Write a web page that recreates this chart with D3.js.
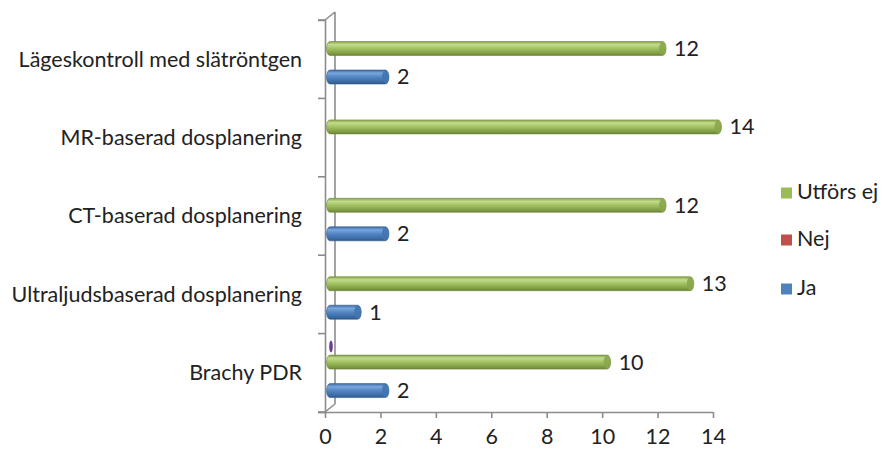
<!DOCTYPE html>
<html>
<head>
<meta charset="utf-8">
<script src="https://cdn.jsdelivr.net/npm/d3@7"></script>
<style>
  html, body { margin: 0; padding: 0; background: #fff; }
  svg { display: block; }
  text { font-family: Lato, "Noto Sans", sans-serif; fill: #222; }
</style>
</head>
<body>
<svg id="chart" width="882" height="468"></svg>
<script>
// Categories, top to bottom
const categories = [
  "Lägeskontroll med slätröntgen",
  "MR-baserad dosplanering",
  "CT-baserad dosplanering",
  "Ultraljudsbaserad dosplanering",
  "Brachy PDR"
];
// Series values per category (null = no bar)
const jaValues      = [2, null, 2, 1, 2];
const nejValues     = [null, null, null, null, 0];
const utforsEjValues = [12, 14, 12, 13, 10];
const xTicks = [0, 2, 4, 6, 8, 10, 12, 14];

const seriesNames = ["Utförs ej", "Nej", "Ja"];
const seriesColors = { "Utförs ej": "#9bbb59", "Nej": "#c0504d", "Ja": "#4f81bd" };

const fontSize = 21.5;
const svg = d3.select("#chart");

const plot = { left: 325, right: 713, top: 20, bottom: 412 };
const depth = { dx: 10, dy: -8 };

const x = d3.scaleLinear().domain([0, 14]).range([plot.left, plot.right]);
const y = d3.scaleBand().domain(categories).range([plot.top, plot.bottom]);

// Gradients for cylinder bars
const defs = svg.append("defs");
function cylGrad(id, stops) {
  const g = defs.append("linearGradient").attr("id", id)
    .attr("x1", 0).attr("y1", 0).attr("x2", 0).attr("y2", 1);
  stops.forEach(([o, c]) => g.append("stop").attr("offset", o).attr("stop-color", c));
}
cylGrad("g-green", [[0, "#86a24a"], [0.22, "#c3dc8c"], [0.5, "#a2c262"], [0.85, "#7f9b43"], [1, "#6a8434"]]);
cylGrad("g-blue",  [[0, "#3b6aa3"], [0.22, "#7aa6dc"], [0.5, "#5286c4"], [0.85, "#3a6aa3"], [1, "#2d578a"]]);

// 3D frame: back wall edge, front axis, connectors
const axisColor = "#8c8c8c";
const frame = svg.append("g").attr("stroke", axisColor).attr("stroke-width", 1.6).attr("fill", "none");
frame.append("line").attr("x1", plot.left + depth.dx).attr("y1", plot.top + depth.dy)
  .attr("x2", plot.left + depth.dx).attr("y2", plot.bottom + depth.dy);
frame.append("line").attr("x1", plot.left).attr("y1", plot.top)
  .attr("x2", plot.left + depth.dx).attr("y2", plot.top + depth.dy);
frame.append("line").attr("x1", plot.left).attr("y1", plot.bottom)
  .attr("x2", plot.left + depth.dx).attr("y2", plot.bottom + depth.dy);

// Y axis (front)
const yAxis = d3.axisLeft(y).tickSize(7).tickSizeOuter(7).tickFormat("");
const yg = svg.append("g").attr("transform", `translate(${plot.left},0)`).call(yAxis);
yg.selectAll(".tick").remove();
yg.selectAll("path").attr("stroke", axisColor).attr("stroke-width", 1.6);
// band boundary ticks
yg.selectAll("line.bt").data(d3.range(categories.length + 1)).enter().append("line")
  .attr("class", "bt").attr("x1", -7).attr("x2", 0)
  .attr("y1", i => plot.top + i * y.step()).attr("y2", i => plot.top + i * y.step())
  .attr("stroke", axisColor).attr("stroke-width", 1.6);

// X axis
const xAxis = d3.axisBottom(x).tickValues(xTicks).tickSize(6).tickSizeOuter(0).tickPadding(11);
const xg = svg.append("g").attr("transform", `translate(0,${plot.bottom})`).call(xAxis);
xg.select(".domain").attr("stroke", axisColor).attr("stroke-width", 1.6)
  .attr("d", `M${plot.left - 7},0.5H${plot.right}`);
xg.selectAll(".tick line").attr("stroke", axisColor).attr("stroke-width", 1.6);
xg.selectAll(".tick text").attr("font-size", fontSize).style("font-family", "Lato, 'Noto Sans', sans-serif").attr("fill", "#222");

// Category labels
svg.append("g").selectAll("text").data(categories).enter().append("text")
  .attr("x", 302).attr("y", d => y(d) + y.bandwidth() / 2 + 2)
  .attr("text-anchor", "end").attr("dominant-baseline", "middle")
  .attr("font-size", fontSize).text(d => d);

// Bars
const barH = 14;
const capRx = 3.5;
const offsets = { "Utförs ej": 28.5, "Nej": 13, "Ja": 57 };
const bars = [];
categories.forEach((c, i) => {
  bars.push({ cat: c, series: "Utförs ej", v: utforsEjValues[i], grad: "g-green", cap: "#8aa64c" });
  bars.push({ cat: c, series: "Ja", v: jaValues[i], grad: "g-blue", cap: "#4174b0" });
  bars.push({ cat: c, series: "Nej", v: nejValues[i], grad: null, cap: "#6a3d8f" });
});
const bx = v => x(v) + depth.dx / 2;
const bg = svg.append("g");
bars.filter(b => b.v !== null).forEach(b => {
  const cy = y(b.cat) + offsets[b.series];
  const x0 = bx(0), x1 = bx(b.v);
  if (b.v > 0) {
    bg.append("path")
      .attr("d", `M${x0},${cy - barH / 2} H${x1} A${capRx},${barH / 2} 0 0 1 ${x1},${cy + barH / 2} H${x0} A${capRx},${barH / 2} 0 0 1 ${x0},${cy - barH / 2} Z`)
      .attr("fill", `url(#${b.grad})`).attr("stroke", d3.color(b.cap).darker(0.6)).attr("stroke-width", 0.6);
    bg.append("ellipse").attr("cx", x1).attr("cy", cy).attr("rx", capRx).attr("ry", barH / 2 - 0.5)
      .attr("fill", b.cap).attr("opacity", 0.9);
    svg.append("text").attr("x", x1 + capRx + 8).attr("y", cy + 2)
      .attr("dominant-baseline", "middle").attr("font-size", fontSize).text(b.v);
  } else {
    // zero-length bar: only the end cap is visible
    bg.append("ellipse").attr("cx", x0 + 1).attr("cy", cy).attr("rx", 1.8).attr("ry", barH / 2 - 1)
      .attr("fill", b.cap);
  }
});

// Legend
const legend = svg.append("g").attr("transform", "translate(781,0)");
const legendY = [193, 240, 289];
seriesNames.forEach((s, i) => {
  legend.append("rect").attr("x", 0).attr("y", legendY[i] - 5.5).attr("width", 11).attr("height", 11)
    .attr("fill", seriesColors[s]);
  legend.append("text").attr("x", 16).attr("y", legendY[i] + 1).attr("dominant-baseline", "middle")
    .attr("font-size", fontSize).text(s);
});
</script>
</body>
</html>
